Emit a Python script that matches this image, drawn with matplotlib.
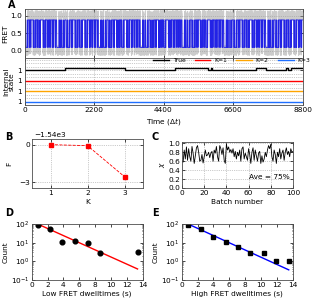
import numpy as np
import matplotlib
matplotlib.use("Agg")
import matplotlib.pyplot as plt
from matplotlib.ticker import MultipleLocator, LogLocator

# ---- data ----
# A: dwell lengths (time steps) of the observed two-state trace, cycled
dwell = [30, 12, 45, 8, 20, 40, 15, 25, 10, 65, 18, 7, 35, 22, 14, 38, 9, 28,
         40, 11, 16, 75, 24, 13, 33, 19, 6, 50, 21, 27, 10, 38, 15, 42, 12,
         26, 8, 44, 17, 30, 70, 14, 23, 9, 36, 20, 48, 11, 29, 45]
noise = [0.03, -0.05, 0.08, -0.02, 0.12, -0.09, 0.01, 0.06, -0.11, 0.04,
         -0.03, 0.15, -0.06, 0.02, -0.08, 0.09, -0.01, 0.05, -0.13, 0.07,
         -0.04, 0.10, -0.07, 0.00, 0.13, -0.10, 0.03, -0.02, 0.06, -0.12,
         0.08, -0.05, 0.11, -0.03, 0.02, -0.08, 0.14, -0.06, 0.04, -0.01, 0.07]
n_time = 8800
viterbi_levels = [0.1, 0.88]
fret_levels = [0.0, 1.0]

# true internal state switch times (time, level)
true_t = [0, 1285, 3180, 4750, 5820, 5900, 5950, 7340, 7660, 8290, 8355, 8450, 8800]
true_s = [0, 1, 0, 1, 0, 1, 0, 1, 0, 1, 0, 1, 1]
state_rows = {"K=1": 2, "K=2": 1, "K=3": 0}

# B: free energy vs K
K = [1, 2, 3]
F = [-1540.0, -1540.08, -1542.55]
F_offset = -1540.0

# C: chi per batch
chi = [0.60, 0.58, 0.85, 0.65, 0.92, 0.62, 0.88, 0.70, 0.60, 0.93, 0.78, 0.55,
       0.72, 0.90, 0.95, 0.80, 0.60, 0.62, 0.75, 0.56, 0.70, 0.85, 0.72, 0.74,
       0.80, 0.68, 0.78, 0.82, 0.60, 0.85, 0.78, 0.93, 0.70, 0.60, 0.95, 0.88,
       0.75, 0.90, 0.62, 0.55, 0.98, 0.85, 0.92, 0.80, 0.86, 0.78, 0.88, 0.70,
       0.82, 0.65, 0.80, 0.72, 0.85, 0.60, 0.88, 0.92, 0.65, 0.78, 0.70, 0.62,
       0.88, 0.75, 0.55, 0.80, 0.90, 0.62, 0.85, 0.72, 0.60, 0.78, 0.82, 0.55,
       0.72, 0.58, 0.65, 0.80, 0.70, 0.85, 0.95, 0.88, 0.98, 0.70, 0.60, 0.85,
       0.75, 0.55, 0.80, 0.70, 0.88, 0.65, 0.78, 0.85, 0.62, 0.80, 0.90, 0.75,
       0.82, 0.70, 0.88, 0.80, 0.82]

# D: low FRET dwell histogram + fit
low_t = [0.75, 2.3, 3.85, 5.5, 7.05, 8.6, 13.35]
low_n = [88, 57, 11, 13, 10, 2.9, 3.0]
low_fit_t = [0.75, 13.35]
low_fit_n = [100, 0.39]

# E: high FRET dwell histogram + fit
high_t = [0.8, 2.4, 3.95, 5.55, 7.1, 8.65, 10.35, 11.95, 13.5]
high_n = [90, 52, 19, 11, 5.6, 2.9, 2.9, 1.0, 1.0]
high_fit_t = [0.8, 13.5]
high_fit_n = [100, 0.35]

# ---- build the trace from the dwell list ----
states = []
i = 0
while len(states) < n_time:
    states += [i % 2] * dwell[i % len(dwell)]
    i += 1
states = np.array(states[:n_time])
t = np.arange(n_time)
fret = np.array(fret_levels)[states] + np.resize(noise, n_time)
vit = np.array(viterbi_levels)[states]

plt.rcParams['font.size'] = 5.3
plt.rcParams['axes.linewidth'] = 0.6
plt.rcParams['axes.edgecolor'] = '0.3'

W, H = 312, 299
fig = plt.figure(figsize=(W / 100, H / 100), dpi=100)


def box(l, r, top, bot):
    return [l / W, (H - bot) / H, (r - l) / W, (bot - top) / H]


def style(ax):
    ax.tick_params(direction='in', top=True, right=True, length=2, width=0.5,
                   pad=1.5, labelsize=5.3)
    ax.tick_params(which='minor', direction='in', top=True, right=True,
                   length=1, width=0.4)


grid_kw = dict(color='0.6', ls=':', lw=0.5)

# ---- A: FRET ----
axf = fig.add_axes(box(24.5, 302.5, 9, 58))
axf.plot(t, fret, color='0.6', lw=0.4, alpha=0.5)
axf.plot(t, vit, color='#2222e6', lw=0.6)
axf.set_xlim(0, 8800)
axf.set_ylim(-0.2, 1.19)
axf.set_yticks([0.0, 0.5, 1.0])
axf.set_xticks([0, 2200, 4400, 6600, 8800])
axf.set_xticklabels([])
axf.grid(True, **grid_kw)
axf.set_ylabel('FRET', labelpad=2)
style(axf)

# ---- A: internal state ----
axs = fig.add_axes(box(24.5, 302.5, 58, 105))
axs.step(true_t, [3 + 0.25 * s for s in true_s], where='post', color='k',
         lw=1.0, label='True')
colors = {"K=1": 'r', "K=2": '#ffa500', "K=3": '#1f6fff'}
for name, row in state_rows.items():
    axs.plot([0, n_time], [row, row], color=colors[name], lw=1.0, label=name)
axs.set_xlim(0, 8800)
axs.set_ylim(-0.31, 4.16)
axs.set_yticks([0, 1, 2, 3])
axs.set_yticklabels(['1', '1', '1', '1'])
axs.yaxis.set_minor_locator(MultipleLocator(1 / 3))
axs.set_xticks([0, 2200, 4400, 6600, 8800])
axs.grid(True, which='major', **grid_kw)
axs.grid(True, which='minor', axis='y', **grid_kw)
axs.set_ylabel('Internal\nstate', labelpad=2, linespacing=0.9)
axs.set_xlabel('Time ($\\Delta t$)', labelpad=2)
style(axs)
axs.tick_params(which='minor', length=0)
axs.legend(loc='upper right', bbox_to_anchor=(1.035, 1.06), ncol=4,
           frameon=False, fontsize=4.3, handlelength=2.6, columnspacing=1.6,
           handletextpad=0.6, borderaxespad=0)

# ---- B ----
axb = fig.add_axes(box(32, 143, 139, 188))
axb.plot(K, [f - F_offset for f in F], color='r', ls='--', lw=0.6,
         marker='s', ms=3.3, mec='r')
axb.set_xlim(0.5, 3.5)
axb.set_ylim(-3.45, 0.45)
axb.set_xticks(K)
axb.set_yticks([-3, 0])
axb.set_yticklabels(['\u22123', '0'])
axb.grid(True, **grid_kw)
axb.set_xlabel('K', labelpad=2)
axb.set_ylabel('F', labelpad=5)
axb.text(0.02, 1.02, '\u22121.54e3', transform=axb.transAxes, fontsize=5.3,
         va='bottom', ha='left')
style(axb)

# ---- C ----
axc = fig.add_axes(box(182, 293, 142, 188))
axc.plot(np.arange(len(chi)), chi, color='k', lw=0.6)
axc.set_xlim(0, 100)
axc.set_ylim(0, 1.03)
axc.set_xticks(range(0, 101, 20))
axc.set_yticks(np.arange(0, 1.01, 0.2))
axc.grid(True, **grid_kw)
axc.set_xlabel('Batch number', labelpad=2)
axc.set_ylabel('$\\chi$', labelpad=1)
axc.text(97, 0.25, 'Ave = 75%', ha='right', va='center', fontsize=5.3)
style(axc)

# ---- D ----
axd = fig.add_axes(box(31.7, 142.7, 224, 280))
axd.semilogy(low_fit_t, low_fit_n, color='r', lw=1.0)
axd.semilogy(low_t, low_n, 'o', color='k', ms=3.4)
axd.set_xlim(0, 14)
axd.set_ylim(0.1, 100)
axd.set_xticks(range(0, 15, 2))
axd.set_xlabel('Low FRET dwelltimes (s)', labelpad=2)
axd.set_ylabel('Count', labelpad=2)
style(axd)

# ---- E ----
axe = fig.add_axes(box(181.7, 292.7, 224, 280))
axe.semilogy(high_fit_t, high_fit_n, color='b', lw=1.0)
axe.semilogy(high_t, high_n, 's', color='k', ms=3.2)
axe.set_xlim(0, 14)
axe.set_ylim(0.1, 100)
axe.set_xticks(range(0, 15, 2))
axe.set_xlabel('High FRET dwelltimes (s)', labelpad=2)
axe.set_ylabel('Count', labelpad=2)
style(axe)

for ax in (axd, axe):
    ax.yaxis.set_minor_locator(LogLocator(base=10, subs=np.arange(2, 10)))

# panel letters
for letter, x, y in [('A', 8, 5), ('B', 5, 137), ('C', 152, 137),
                     ('D', 5, 213), ('E', 152, 213)]:
    fig.text(x / W, 1 - y / H, letter, fontsize=7, fontweight='bold',
             ha='left', va='center')

fig.savefig('out.png', dpi=100)
